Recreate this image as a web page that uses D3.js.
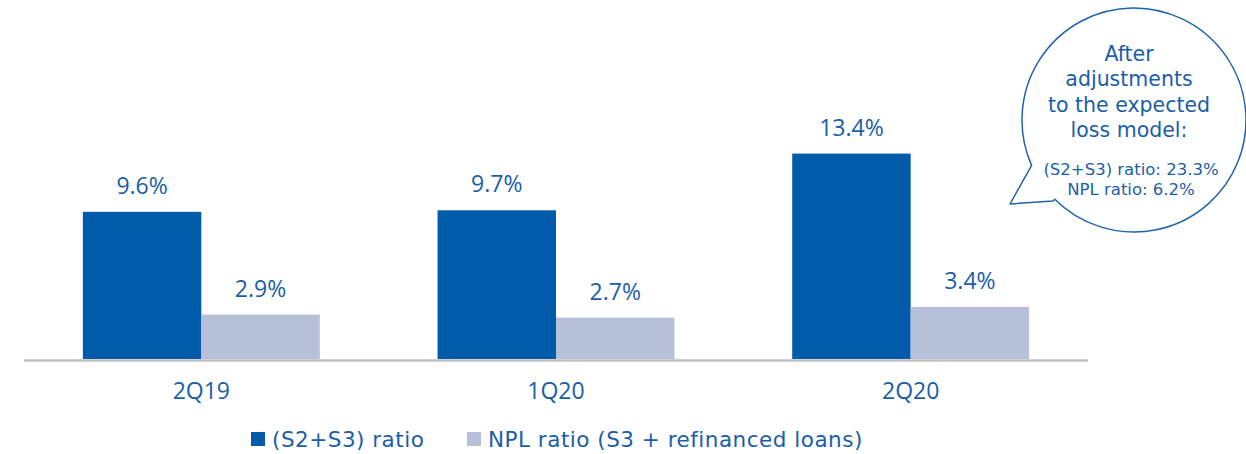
<!DOCTYPE html>
<html>
<head>
<meta charset="utf-8">
<script src="https://cdn.jsdelivr.net/npm/d3@7"></script>
<style>
  html, body { margin: 0; padding: 0; background: #fff; }
  svg { display: block; font-family: "Open Sans", sans-serif; }
</style>
</head>
<body>
<svg id="chart" width="1246" height="454"></svg>
<script>
// Quarterly ratios (%)
const categories = ["2Q19", "1Q20", "2Q20"];
const seriesNames = ["(S2+S3) ratio", "NPL ratio (S3 + refinanced loans)"];
const s2s3Ratio = [9.6, 9.7, 13.4];
const nplRatio = [2.9, 2.7, 3.4];
const calloutLines = ["After", "adjustments", "to the expected", "loss model:"];
const calloutDetails = ["(S2+S3) ratio: 23.3%", "NPL ratio: 6.2%"];

const colors = ["#005bab", "#b6c0d9"];
const textBlue = "#1a5ea9";
const wideFont = "'DejaVu Sans', sans-serif";

const svg = d3.select("#chart");
const baseY = 359;

const y = d3.scaleLinear().domain([0, 15]).range([baseY, baseY - 15 * 15.33]);
const x = d3.scaleBand().domain(categories).range([24, 1088])
  .paddingInner(0.332).paddingOuter(0.166);
const xs = d3.scaleBand().domain([0, 1]).range([0, x.bandwidth()]).padding(0);

const rows = categories.map((c, i) => ({ cat: c, vals: [s2s3Ratio[i], nplRatio[i]] }));

// bars
const groups = svg.append("g").selectAll("g").data(rows).join("g")
  .attr("transform", d => `translate(${x(d.cat)},0)`);

groups.selectAll("rect").data(d => d.vals.map((v, k) => ({ v, k }))).join("rect")
  .attr("x", d => xs(d.k))
  .attr("y", d => y(d.v))
  .attr("width", xs.bandwidth())
  .attr("height", d => y(0) - y(d.v))
  .attr("fill", d => colors[d.k]);

groups.selectAll("text.val").data(d => d.vals.map((v, k) => ({ v, k }))).join("text")
  .attr("class", "val")
  .attr("x", d => xs(d.k) + xs.bandwidth() / 2)
  .attr("y", d => y(d.v) - 18)
  .attr("text-anchor", "middle")
  .attr("fill", textBlue)
  .attr("font-size", 23)
  .text(d => d.v.toFixed(1) + "%");

// baseline across the plotting range
svg.append("line")
  .attr("x1", x.range()[0]).attr("x2", x.range()[1])
  .attr("y1", baseY + 1.5).attr("y2", baseY + 1.5)
  .attr("stroke", "#c0c0c0").attr("stroke-width", 2.5);

// category axis
const xAxis = svg.append("g")
  .attr("transform", `translate(0,${baseY})`)
  .call(d3.axisBottom(x).tickSize(0).tickPadding(24));
xAxis.select(".domain").remove();
xAxis.selectAll("text")
  .attr("fill", textBlue)
  .attr("font-size", 23)
  .attr("font-family", "Open Sans, sans-serif");

// legend
const legendItems = [{ x: 251, name: seriesNames[0], c: colors[0] },
                     { x: 467, name: seriesNames[1], c: colors[1] }];
const lg = svg.append("g").selectAll("g").data(legendItems).join("g")
  .attr("transform", d => `translate(${d.x},0)`);
lg.append("rect").attr("x", 0).attr("y", 432).attr("width", 14).attr("height", 14)
  .attr("fill", d => d.c);
lg.append("text").attr("x", 21).attr("y", 447)
  .attr("fill", textBlue).attr("font-size", 21.5)
  .attr("font-family", wideFont).attr("letter-spacing", 0.5)
  .text(d => d.name);

// speech-bubble callout
const cx = 1134, cy = 120, r = 112;
const a1 = Math.atan2(167 - cy, 1028 - cx);
const a2 = Math.atan2(201 - cy, 1053 - cx);
const bubble = d3.path();
bubble.moveTo(cx + r * Math.cos(a1), cy + r * Math.sin(a1));
bubble.arc(cx, cy, r, a1, a2, false);
bubble.lineTo(1053, 201);
bubble.lineTo(1010, 204);
bubble.closePath();
svg.append("path")
  .attr("d", bubble.toString())
  .attr("fill", "#fff")
  .attr("stroke", "#1f63ad")
  .attr("stroke-width", 1.5)
  .attr("stroke-linejoin", "round");

svg.append("g").selectAll("text").data(calloutLines).join("text")
  .attr("x", 1129).attr("y", (d, i) => 61 + i * 25.3)
  .attr("text-anchor", "middle").attr("fill", textBlue)
  .attr("font-size", 20.5).attr("font-family", wideFont)
  .text(d => d);
svg.append("g").selectAll("text").data(calloutDetails).join("text")
  .attr("x", 1131).attr("y", (d, i) => 175 + i * 20)
  .attr("text-anchor", "middle").attr("fill", textBlue)
  .attr("font-size", 16.5).attr("font-family", wideFont)
  .text(d => d);
</script>
</body>
</html>
